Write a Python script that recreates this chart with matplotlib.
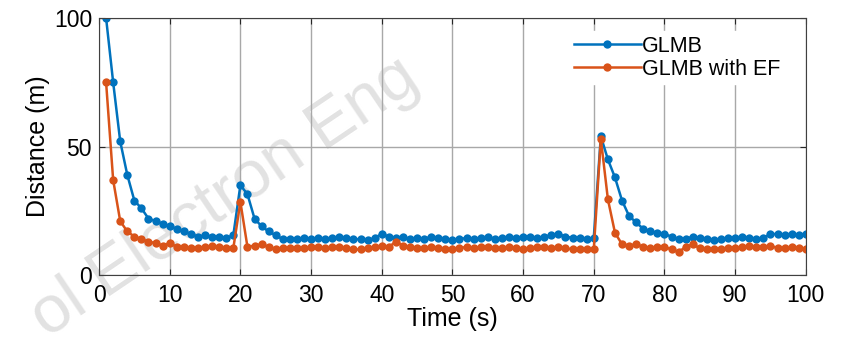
import numpy as np
import matplotlib.pyplot as plt

plt.rcParams['font.family'] = ['Liberation Sans', 'DejaVu Sans']

# time steps 1..100 s
t = np.arange(1, 101)

glmb = [100, 75, 52, 39, 29, 26, 22, 21, 20, 19,
        18, 17, 16, 15, 15.5, 15, 15, 14.5, 15.5, 35,
        31.5, 22, 19, 17, 15.5, 14, 14, 14, 14.5, 14,
        14.5, 14, 14.5, 15, 14.5, 14, 14, 13.5, 14.5, 16,
        15, 14.5, 15, 14, 14.5, 14, 15, 14.5, 14, 13.5,
        14, 14.5, 14, 14.5, 15, 14, 14.5, 15, 14.5, 15,
        15, 14.5, 15, 15.5, 16, 15, 14.5, 14.5, 14, 14.5,
        54, 45, 38, 29, 23, 20.5, 18, 17, 16.5, 16,
        15, 14, 14, 15, 14.5, 14, 13.5, 14, 14.5, 14.5,
        15, 14.5, 14, 14.5, 16, 16, 15.5, 16, 15.5, 16]

glmb_ef = [75, 37, 21, 17, 15, 14, 13, 12.5, 11.5, 12.5,
           11, 11, 10.5, 10.5, 11, 11.5, 11, 10.5, 10.5, 28.5,
           11, 11.5, 12, 11, 10, 10.5, 10.5, 10.5, 10.5, 11,
           11, 10.5, 11, 11, 10.5, 10, 10, 10.5, 11, 11.5,
           11, 13, 11.5, 11, 10.5, 10.5, 11, 10.5, 10, 10,
           10.5, 11, 10.5, 11, 11, 10.5, 10.5, 11, 10.5, 10,
           10.5, 11, 11, 10.5, 11, 10.5, 10, 10, 10, 10,
           53, 29.5, 16.5, 12, 11.5, 12, 11, 10.5, 11, 11,
           10, 9, 11, 12, 10.5, 10, 10, 10, 10.5, 10.5,
           11, 11.5, 11, 11, 11.5, 10.5, 10.5, 11, 10.5, 10]

fig = plt.figure(figsize=(8.5, 3.47), dpi=100)
ax = fig.add_axes([0.1165, 0.207, 0.8315, 0.741])
ax.set_facecolor('none')

# watermark behind the plot
fig.text(0.265, 0.43, 'ol Electron Eng', fontsize=48, color='#e2e2e2',
         rotation=34, ha='center', va='center', rotation_mode='anchor', zorder=-1)

ax.plot(t, glmb, 'o-', color='#0072BD', lw=1.8, ms=6, mew=0, label='GLMB')
ax.plot(t, glmb_ef, 'o-', color='#D95319', lw=1.8, ms=6, mew=0, label='GLMB with EF')

ax.set_xlim(0, 100)
ax.set_ylim(0, 100)
ax.set_xticks(np.arange(0, 101, 10))
ax.set_yticks([0, 50, 100])
ax.grid(True, color='#a8a8a8', lw=1)
ax.set_axisbelow(True)
ax.tick_params(direction='in', top=True, right=True, labelsize=16.5, length=4,
               color='#262626')
ax.tick_params(axis='x', pad=6)
ax.tick_params(axis='y', pad=5)
for s in ax.spines.values():
    s.set_color('#404040')

ax.set_xlabel('Time (s)', fontsize=18, labelpad=0)
ax.set_ylabel('Distance (m)', fontsize=18, labelpad=3)

leg = ax.legend(loc='upper right', bbox_to_anchor=(0.985, 0.99), fontsize=15.5,
                handlelength=3.1, handletextpad=0.05, labelspacing=0.1,
                frameon=True, edgecolor='white', fancybox=False, framealpha=1,
                borderpad=0.2)

fig.savefig('out.png', dpi=100)
